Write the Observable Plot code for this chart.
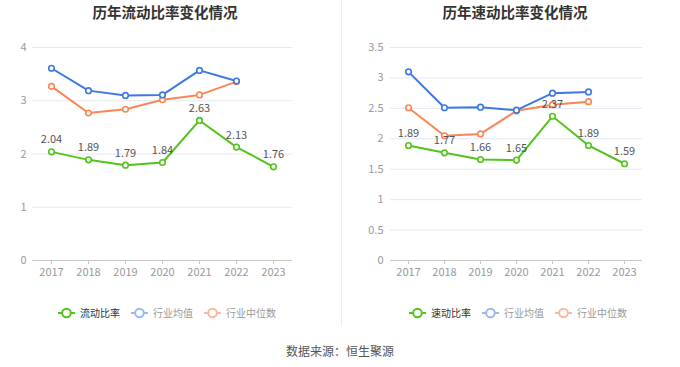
<!DOCTYPE html>
<html>
<head>
<meta charset="utf-8">
<script src="https://cdn.jsdelivr.net/npm/d3@7"></script>
<script src="https://cdn.jsdelivr.net/npm/@observablehq/plot@0.6"></script>
<style>
  html, body { margin: 0; padding: 0; background: #fff; }
  body { width: 680px; height: 367px; position: relative; overflow: hidden;
         font-family: "Noto Sans CJK SC", "Noto Sans", sans-serif; }
  .panel { position: absolute; top: 0; width: 340px; height: 290px; }
  .title { position: absolute; top: 1px; font-size: 14.5px; font-weight: bold; color: #333;
           white-space: nowrap; transform: translateX(-50%); }
  .legend { position: absolute; top: 305px; display: flex; gap: 11px; font-size: 10px;
            transform: translateX(-50%); white-space: nowrap; align-items: center; }
  .legend .item { display: flex; align-items: center; gap: 5px; }
  .divider { position: absolute; left: 341px; top: 0; width: 1px; height: 326px; background: #eeeeee; }
  .footer { position: absolute; top: 342px; left: 340px; transform: translateX(-50%);
            font-size: 12px; color: #555; white-space: nowrap; }
</style>
</head>
<body>
<div id="left" class="panel" style="left:0"></div>
<div id="right" class="panel" style="left:340px"></div>
<div class="divider"></div>
<div class="title" style="left:165px">历年流动比率变化情况</div>
<div class="title" style="left:515px">历年速动比率变化情况</div>
<div id="legendL" class="legend" style="left:167px"></div>
<div id="legendR" class="legend" style="left:518px"></div>
<div class="footer">数据来源：恒生聚源</div>
<script>
const years = ["2017", "2018", "2019", "2020", "2021", "2022", "2023"];
const avgYears = ["2017", "2018", "2019", "2020", "2021", "2022"];

const currentRatio = [2.04, 1.89, 1.79, 1.84, 2.63, 2.13, 1.76];
const currentAvg = [3.61, 3.19, 3.10, 3.11, 3.57, 3.37];
const currentMedian = [3.27, 2.77, 2.84, 3.02, 3.11, 3.36];
const currentTicks = [0, 1, 2, 3, 4];

const quickRatio = [1.89, 1.77, 1.66, 1.65, 2.37, 1.89, 1.59];
const quickAvg = [3.10, 2.51, 2.52, 2.47, 2.75, 2.77];
const quickMedian = [2.51, 2.05, 2.08, 2.46, 2.56, 2.61];
const quickTicks = [0, 0.5, 1, 1.5, 2, 2.5, 3, 3.5];

const GREEN = "#52c41a", BLUE = "#3d78e3", ORANGE = "#fb8556";
const FONT = "'Noto Sans CJK SC', 'Noto Sans', sans-serif";

function rows(xs, vs) { return xs.map((x, i) => ({x, y: vs[i]})); }

function makeChart(opts) {
  const main = rows(years, opts.main);
  const avg = rows(avgYears, opts.avg);
  const med = rows(avgYears, opts.med);
  const series = (data, color) => [
    Plot.line(data, {x: "x", y: "y", stroke: color, strokeWidth: 2}),
    Plot.dot(data, {x: "x", y: "y", r: 2.8, fill: "#fff", stroke: color, strokeWidth: 1.6})
  ];
  return Plot.plot({
    width: 340, height: 290,
    marginTop: 47, marginBottom: 30, marginLeft: opts.ml, marginRight: opts.mr,
    style: {fontFamily: FONT, fontSize: "11px", color: "#999", background: "transparent"},
    x: {type: "point", domain: years, padding: 0.5, label: null},
    y: {domain: opts.domain, label: null},
    marks: [
      Plot.gridY(opts.ticks.filter(t => t > 0), {stroke: "#e3e8f4", strokeOpacity: 1, strokeWidth: 1}),
      Plot.axisY(opts.ticks, {tickSize: 0, tickPadding: opts.tp, fill: "#999", fontSize: 11,
                 tickFormat: d => String(d)}),
      Plot.ruleY([0], {stroke: "#c6c6c6", strokeWidth: 1.2}),
      Plot.axisX({tickSize: 4, tickPadding: 4, stroke: "#c6c6c6", fill: "#999", fontSize: 11}),
      ...series(med, ORANGE),
      ...series(avg, BLUE),
      ...series(main, GREEN),
      Plot.text(main, {x: "x", y: "y", text: d => d.y.toFixed(2), dy: -12,
                       fill: "#555", fontSize: 11})
    ]
  });
}

document.getElementById("left").append(makeChart({
  main: currentRatio, avg: currentAvg, med: currentMedian,
  domain: [0, 4], ticks: currentTicks, ml: 32, mr: 48, tp: 6
}));
document.getElementById("right").append(makeChart({
  main: quickRatio, avg: quickAvg, med: quickMedian,
  domain: [0, 3.5], ticks: quickTicks, ml: 50, mr: 38, tp: 7
}));

const legendItems = (first) => [
  {name: first, color: GREEN, text: "#333"},
  {name: "行业均值", color: "#9bb8ef", text: "#999"},
  {name: "行业中位数", color: "#f9b9a0", text: "#999"}
];
function buildLegend(id, first) {
  const el = document.getElementById(id);
  for (const it of legendItems(first)) {
    const item = document.createElement("div");
    item.className = "item";
    item.innerHTML = `<svg width="17" height="12"><line x1="0" y1="6" x2="17" y2="6" stroke="${it.color}" stroke-width="2"/><circle cx="8.5" cy="6" r="4.3" fill="#fff" stroke="${it.color}" stroke-width="2"/></svg><span style="color:${it.text}">${it.name}</span>`;
    el.append(item);
  }
}
buildLegend("legendL", "流动比率");
buildLegend("legendR", "速动比率");
</script>
</body>
</html>
